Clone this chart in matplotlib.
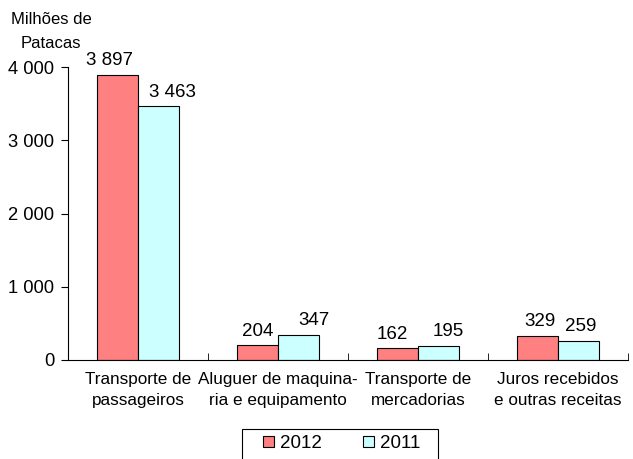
import numpy as np
import matplotlib.pyplot as plt
from matplotlib.patches import Rectangle
from matplotlib.ticker import FuncFormatter

plt.rcParams['font.family'] = ['Liberation Sans', 'DejaVu Sans']

categorias = ["Transporte de\npassageiros", "Aluguer de maquina-\nria e equipamento",
              "Transporte de\nmercadorias", "Juros recebidos\ne outras receitas"]
valores_2012 = [3897, 204, 162, 329]
valores_2011 = [3463, 347, 195, 259]
anos = ["2012", "2011"]

fig = plt.figure(figsize=(6.33, 4.59), dpi=100)
ax = fig.add_axes([0.1074, 0.2157, 0.8846, 0.638])

x = np.arange(len(categorias))
w = 0.29
b1 = ax.bar(x - w / 2, valores_2012, w, color='#FF8080', edgecolor='black', lw=0.8, label=anos[0])
b2 = ax.bar(x + w / 2, valores_2011, w, color='#CCFFFF', edgecolor='black', lw=0.8, label=anos[1])

def fmt(v):
    return f"{v:,.0f}".replace(",", " ")

# rótulos de dados (deslocamento horizontal em pontos, como no Excel)
desloc_2012 = [-6, 0, -3.5, 1.5]
desloc_2011 = [10, 11, 7, 1.5]
for barras, vals, desl in [(b1, valores_2012, desloc_2012), (b2, valores_2011, desloc_2011)]:
    for r, v, dx in zip(barras, vals, desl):
        ax.annotate(fmt(v), (r.get_x() + r.get_width() / 2, v), xytext=(dx, 4),
                    textcoords='offset points', ha='center', va='bottom', fontsize=13.5)

ax.set_xlim(-0.5, len(categorias) - 0.5)
ax.set_ylim(0, 4000)
ax.set_yticks([0, 1000, 2000, 3000, 4000])
ax.yaxis.set_major_formatter(FuncFormatter(lambda v, p: fmt(v)))
ax.tick_params(axis='y', direction='out', length=5, labelsize=13.2, pad=5)

ax.set_xticks(x)
ax.set_xticklabels(categorias, fontsize=12.3, linespacing=1.42)
ax.tick_params(axis='x', length=0, pad=9)
ax.set_xticks(np.arange(-0.5, len(categorias)), minor=True)
ax.tick_params(axis='x', which='minor', direction='in', length=5)

for s in ['top', 'right']:
    ax.spines[s].set_visible(False)
ax.spines['left'].set_linewidth(0.8)
ax.spines['bottom'].set_linewidth(0.8)

fig.text(0.081, 0.932, "Milhões de\nPatacas", ha='center', va='center', fontsize=12, linespacing=1.75)

# legenda (moldura desenhada à parte, cortada na margem inferior)
fig.legend(loc='center', bbox_to_anchor=(0.540, 0.033), ncol=2, fontsize=13.5,
           frameon=False, handlelength=0.55, handleheight=0.55,
           columnspacing=2.2, handletextpad=0.35, borderpad=0, borderaxespad=0)
fig.patches.append(Rectangle((242 / 633, -0.02), 196 / 633, 0.085, transform=fig.transFigure,
                             fill=False, ec='black', lw=0.8))

fig.savefig('out.png', dpi=100)
